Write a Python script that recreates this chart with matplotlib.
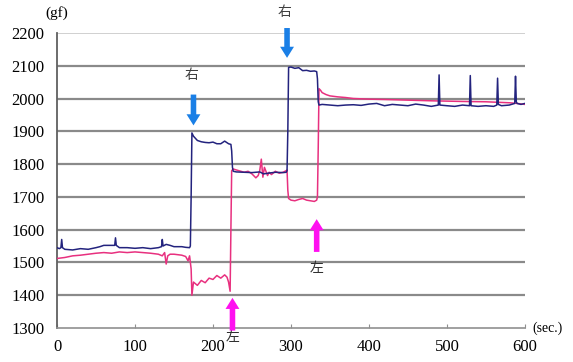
import matplotlib
matplotlib.use("Agg")
import matplotlib.pyplot as plt

# ---- data ----
blue_t = [0, 3, 5, 6, 7, 10, 20, 30, 40, 50, 55, 60, 70, 74, 75, 76, 80, 90, 100, 110, 120, 130, 134, 135, 136,
          140, 145, 150, 160, 165, 170, 171, 172, 173, 175, 180, 185, 190, 195, 200, 205, 210, 215, 220, 223, 224,
          225, 226, 230, 240, 250, 260, 265, 270, 280, 290, 294, 295, 296, 297, 300, 305, 310, 315, 320, 325, 330,
          333, 334, 335, 336, 340, 350, 360, 370, 380, 390, 400, 410, 420, 430, 440, 450, 460, 470, 480, 489, 490,
          491, 500, 510, 520, 529, 530, 531, 540, 550, 560, 564, 565, 566, 570, 580, 587, 588, 589, 590, 595, 600]
blue_v = [1545, 1542, 1545, 1570, 1545, 1540, 1538, 1542, 1540, 1545, 1548, 1552, 1552, 1552, 1575, 1552, 1545,
          1545, 1543, 1545, 1542, 1545, 1548, 1570, 1550, 1555, 1552, 1548, 1548, 1546, 1545, 1550, 1700, 1895,
          1885, 1872, 1868, 1866, 1865, 1867, 1862, 1862, 1870, 1862, 1860, 1840, 1790, 1778, 1776, 1775, 1774,
          1776, 1770, 1772, 1775, 1774, 1775, 1780, 1900, 2095, 2096, 2092, 2094, 2085, 2086, 2083, 2084, 2082,
          2060, 1990, 1980, 1982, 1980, 1978, 1980, 1981, 1979, 1983, 1985, 1978, 1982, 1980, 1978, 1983, 1980,
          1976, 1980, 2072, 1980, 1978, 1976, 1980, 1978, 2070, 1978, 1976, 1978, 1976, 1980, 2062, 1982, 1978,
          1980, 1985, 2068, 1990, 1985, 1982, 1985]

pink_t = [0, 10, 20, 30, 40, 50, 60, 70, 80, 90, 100, 110, 120, 130, 135, 138, 140, 142, 145, 150, 160, 165,
          168, 170, 171, 172, 173, 175, 180, 185, 190, 195, 200, 205, 210, 215, 218, 220, 222, 223, 224, 226, 230,
          240, 245, 250, 255, 258, 260, 262, 264, 266, 270, 272, 275, 280, 285, 290, 294, 295, 296, 297, 300, 305,
          310, 315, 320, 325, 330, 333, 334, 335, 336, 338, 340, 345, 350, 360, 370, 380, 400, 420, 450, 480, 500,
          520, 550, 570, 580, 590, 600]
pink_v = [1512, 1515, 1520, 1522, 1525, 1528, 1530, 1528, 1532, 1530, 1532, 1530, 1528, 1525, 1520, 1530, 1495,
          1520, 1525, 1525, 1522, 1518, 1505, 1520, 1500, 1480, 1400, 1440, 1430, 1445, 1438, 1452, 1448, 1460,
          1452, 1462, 1455, 1440, 1412, 1600, 1780, 1785, 1782, 1775, 1778, 1770, 1758, 1765, 1780, 1815, 1760,
          1790, 1765, 1775, 1768, 1778, 1772, 1775, 1780, 1782, 1720, 1695, 1690, 1688, 1692, 1695, 1690, 1688,
          1686, 1690, 1700, 1850, 2030, 2025, 2018, 2012, 2008, 2005, 2003, 2000, 1998, 1997, 1995, 1993, 1992,
          1991, 1990, 1988, 1987, 1985, 1982]

x_ticks = [0, 100, 200, 300, 400, 500, 600]
y_ticks = [1300, 1400, 1500, 1600, 1700, 1800, 1900, 2000, 2100, 2200]

# arrows: (x, tail_y, tip_y, label, label_y)
right_arrows = [(175, 2012, 1918, "右", 2072), (295, 2215, 2124, "右", 2265)]
left_arrows = [(225, 1292, 1392, "左", 1272), (333, 1532, 1632, "左", 1484)]

# ---- figure ----
fig = plt.figure(figsize=(5.73, 3.62), dpi=100)
ax = fig.add_axes([0.0995, 0.094, 0.8165, 0.815])

ax.set_xlim(0, 600)
ax.set_ylim(1300, 2200)

for y in y_ticks[1:-1]:
    ax.axhline(y, color="#8a8a8a", lw=1.6, zorder=1)
ax.axhline(2200, color="#c8c8c8", lw=1.2, zorder=1)

ax.plot(pink_t, pink_v, color="#e8307f", lw=1.1, zorder=3)
ax.plot(blue_t, blue_v, color="#23237e", lw=1.1, zorder=4)

for sp in ["top", "right"]:
    ax.spines[sp].set_visible(False)
ax.spines["left"].set_color("#606060")
ax.spines["left"].set_linewidth(1.3)
ax.spines["bottom"].set_color("#909090")
ax.spines["bottom"].set_linewidth(1.2)

serif = ["Liberation Serif", "DejaVu Serif"]
ax.set_xticks(x_ticks)
ax.set_yticks(y_ticks)
ax.set_xticklabels([str(v) for v in x_ticks], fontfamily=serif, fontsize=12)
ax.set_yticklabels([str(v) for v in y_ticks], fontfamily=serif, fontsize=12)
ax.tick_params(axis="x", direction="in", length=3, color="#909090", pad=8)
ax.tick_params(axis="y", length=0, pad=9)

ax.text(0.0, 1.045, "(gf)", transform=ax.transAxes, fontfamily=serif, fontsize=11,
        ha="center", va="bottom")
ax.text(1.015, 0.0, "(sec.)", transform=ax.transAxes, fontfamily=serif, fontsize=10,
        ha="left", va="center")

cjk = ["Noto Sans CJK JP", "DejaVu Sans"]
for x, y0, y1, lab, ly in right_arrows:
    ax.annotate("", xy=(x, y1), xytext=(x, y0), annotation_clip=False,
                arrowprops=dict(arrowstyle="simple,head_width=1.0,head_length=0.8,tail_width=0.4",
                                color="#1a7fe6", lw=0, shrinkA=0, shrinkB=0), zorder=6)
    ax.text(x - 3, ly, lab, fontfamily=cjk, fontsize=10, ha="center", va="center",
            color="#404040", clip_on=False)
for x, y0, y1, lab, ly in left_arrows:
    ax.annotate("", xy=(x, y1), xytext=(x, y0), annotation_clip=False,
                arrowprops=dict(arrowstyle="simple,head_width=1.0,head_length=0.8,tail_width=0.4",
                                color="#ff10f0", lw=0, shrinkA=0, shrinkB=0), zorder=6)
    ax.text(x, ly, lab, fontfamily=cjk, fontsize=10, ha="center", va="center",
            color="#303030", clip_on=False)

fig.savefig("out.png", dpi=100)
